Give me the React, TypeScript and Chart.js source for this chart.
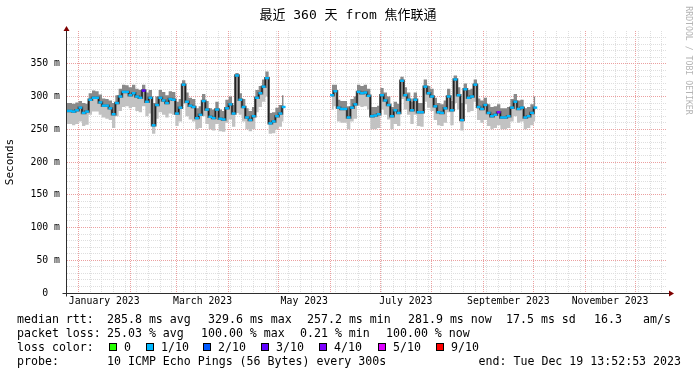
import React, { useEffect, useRef } from 'react';
import { Chart, registerables } from 'chart.js';

Chart.register(...registerables);

// ---------- texts ----------
const chartTitle = '最近 360 天 from 焦作联通';
const yAxisTitle = 'Seconds';
const sideCredit = 'RRDTOOL / TOBI OETIKER';

// ---------- time axis (days since window start; 360-day window) ----------
const windowDays = 360;
const endMs = Date.UTC(2023, 11, 19, 13, 52, 53);
const startMs = endMs - windowDays * 86400000;
const xLabelMonths = [0, 2, 4, 6, 8, 10];
const xLabelTexts = ['January 2023', 'March 2023', 'May 2023', 'July 2023', 'September 2023', 'November 2023'];

// ---------- y axis ----------
const yMax = 400;
const yStep = 10;
const yMajor = 50;

// ---------- data (ms), one value per 2 days ----------
const stepDays = 2;
const segAStart = 0.6;
const medianA = [
  278, 278, 277, 279, 283, 275, 277, 295, 298, 298,
  291, 286, 286, 282, 273, 290, 300, 307, 307, 302,
  305, 300, 298, 309, 292, 298, 256, 287, 298, 294,
  290, 296, 295, 274, 283, 318, 292, 286, 284, 267,
  272, 293, 280, 269, 267, 280, 266, 265, 282, 288,
  274, 332, 295, 284, 268, 264, 270, 298, 305, 315,
  328, 259, 262, 270, 274, 284,
];
const smokeTopA = [
  290, 290, 289, 291, 293, 290, 289, 305, 309, 308,
  303, 297, 296, 294, 290, 302, 312, 318, 317, 314,
  318, 312, 310, 318, 306, 310, 290, 300, 310, 307,
  302, 308, 307, 292, 296, 325, 306, 298, 296, 282,
  285, 304, 293, 282, 280, 292, 280, 278, 295, 300,
  287, 336, 305, 296, 282, 278, 284, 310, 316, 326,
  338, 275, 276, 283, 287, 302,
];
const smokeBotA = [
  258, 258, 256, 258, 262, 255, 257, 272, 277, 277,
  272, 268, 266, 264, 252, 270, 278, 284, 285, 282,
  284, 278, 276, 285, 270, 274, 243, 266, 276, 272,
  268, 274, 272, 255, 262, 288, 270, 265, 262, 250,
  252, 270, 258, 250, 248, 258, 247, 246, 260, 265,
  254, 275, 272, 262, 250, 247, 250, 276, 284, 292,
  300, 243, 244, 250, 254, 262,
];
const segBStart = 159.6;
const medianB = [
  302, 308, 283, 281, 281, 268, 283, 288, 307, 305,
  306, 301, 270, 271, 273, 302, 294, 287, 270, 279,
  275, 324, 302, 295, 279, 295, 276, 276, 315, 305,
  300, 285, 276, 275, 282, 300, 279, 326, 302, 264,
  311, 298, 300, 318, 284, 281, 287, 275, 270, 272,
  276, 268, 268, 270, 283, 292, 281, 283, 268, 270,
  275, 283,
];
const smokeTopB = [
  318, 318, 295, 293, 293, 285, 296, 300, 318, 316,
  318, 312, 284, 284, 286, 313, 306, 300, 284, 292,
  289, 330, 314, 306, 292, 306, 290, 290, 326, 316,
  312, 298, 290, 288, 294, 312, 293, 332, 314, 290,
  320, 310, 312, 326, 297, 294, 298, 288, 284, 285,
  288, 282, 282, 284, 296, 304, 294, 295, 282, 284,
  288, 300,
];
const smokeBotB = [
  280, 285, 262, 260, 260, 250, 262, 266, 286, 284,
  285, 280, 250, 250, 252, 280, 272, 265, 250, 258,
  255, 296, 280, 272, 258, 272, 255, 254, 292, 283,
  278, 264, 256, 255, 260, 276, 256, 290, 280, 248,
  288, 276, 278, 292, 264, 260, 264, 255, 250, 252,
  256, 250, 250, 252, 262, 270, 260, 262, 250, 252,
  256, 262,
];
// [index, loss level] exceptions (default level 1 = 1/10)
const lossLevelA = [[23, 3]];
const lossLevelB = [[50, 4]];

// ---------- legend ----------
const rttLabel = 'median rtt:';
const rttStats = ['285.8 ms avg', '329.6 ms max', '257.2 ms min', '281.9 ms now', '17.5 ms sd', '16.3', 'am/s'];
const lossLabel = 'packet loss:';
const lossStats = ['25.03 % avg', '100.00 % max', '0.21 % min', '100.00 % now'];
const colorLabel = 'loss color:';
const lossLevels = [0, 1, 2, 3, 4, 5, 9];
const lossNames = ['0', '1/10', '2/10', '3/10', '4/10', '5/10', '9/10'];
const lossColors = ['#26ff00', '#00b8ff', '#0059ff', '#5e00ff', '#7e00ff', '#dd00ff', '#ff0000'];
const probeLabel = 'probe:';
const probeText = '10 ICMP Echo Pings (56 Bytes) every 300s';
const endText = 'end: Tue Dec 19 13:52:53 2023';

// ---------- styles / layout ----------
const MONO = '"DejaVu Sans Mono", monospace';
const GRID_MINOR = '#dedede';
const GRID_MAJOR = '#eba0a0';
const AXIS = '#2e2e2e';
const ARROW = '#7f0000';
const rttX = [107, 208, 307, 408, 506, 594, 643];
const lossX = [107, 201, 300, 386];
const boxX = [109, 146, 203, 261, 319, 378, 436];
const legendY = [323, 337, 351, 365];

// ---------- derived ----------
const levelColor = (lvl: number) => lossColors[Math.max(0, lossLevels.indexOf(lvl))];
const toPts = (vals: number[], start: number) => vals.map((v, i) => ({ x: start + i * stepDays, y: v }));
const gapX = (segAStart + (medianA.length - 1) * stepDays + segBStart) / 2;
const join = (a: number[], b: number[]) => [
  ...toPts(a, segAStart),
  { x: gapX, y: null as any },
  ...toPts(b, segBStart),
];
const medPts = join(medianA, medianB);
const topPts = join(smokeTopA, smokeTopB);
const botPts = join(smokeBotA, smokeBotB);
const pointLevels: number[] = medPts.map(() => 1);
lossLevelA.forEach(([i, l]) => { pointLevels[i] = l; });
lossLevelB.forEach(([i, l]) => { pointLevels[medianA.length + 1 + i] = l; });

const dayOfMs = (ms: number) => (ms - startMs) / 86400000;
type XT = { value: number; kind: 'week' | 'month' | 'label'; text: string };
const xTicks: XT[] = [];
for (let m = 0; m < 12; m++) {
  const v = dayOfMs(Date.UTC(2023, m, 1));
  if (v > 0 && v < windowDays) xTicks.push({ value: v, kind: 'month', text: '' });
}
for (let t = Date.UTC(2023, 0, 1); ; t += 7 * 86400000) {
  const v = dayOfMs(t);
  if (v >= windowDays) break;
  if (!xTicks.some((k) => k.kind === 'month' && Math.abs(k.value - v) < 0.01)) {
    xTicks.push({ value: v, kind: 'week', text: '' });
  }
}
xLabelMonths.forEach((m, i) => {
  const a = Date.UTC(2023, m, 1);
  const b = Date.UTC(2023, m + 1, 1);
  xTicks.push({ value: dayOfMs((a + b) / 2), kind: 'label', text: xLabelTexts[i] });
});
xTicks.sort((p, q) => p.value - q.value);

const decor = {
  id: 'decor',
  beforeDraw(chart: any) {
    const { ctx, width, height } = chart;
    ctx.save();
    ctx.fillStyle = '#ffffff';
    ctx.fillRect(0, 0, width, height);
    ctx.restore();
  },
  afterDraw(chart: any) {
    const { ctx } = chart;
    const xs = chart.scales.x;
    const ys = chart.scales.y;
    const L = Math.round(xs.left) + 0.5;
    const R = xs.right;
    const B = Math.round(ys.bottom) + 0.5;
    const T = ys.top;
    ctx.save();
    // axis extensions + arrows
    ctx.strokeStyle = AXIS;
    ctx.lineWidth = 1;
    ctx.beginPath();
    ctx.moveTo(L - 4, B); ctx.lineTo(R + 3, B);
    ctx.moveTo(L, B + 3); ctx.lineTo(L, T);
    ctx.stroke();
    ctx.fillStyle = ARROW;
    ctx.beginPath();
    ctx.moveTo(R + 3, B - 3); ctx.lineTo(R + 8, B); ctx.lineTo(R + 3, B + 3);
    ctx.closePath(); ctx.fill();
    ctx.beginPath();
    ctx.moveTo(L - 3, T); ctx.lineTo(L, T - 5); ctx.lineTo(L + 3, T);
    ctx.closePath(); ctx.fill();

    // title
    ctx.fillStyle = '#000';
    ctx.font = `13px "DejaVu Sans Mono", "Noto Sans CJK SC", monospace`;
    ctx.textAlign = 'center';
    ctx.textBaseline = 'alphabetic';
    ctx.fillText(chartTitle, 348, 19);

    // side credit
    ctx.save();
    ctx.translate(688, 60.5);
    ctx.rotate(Math.PI / 2);
    ctx.font = `8.2px ${MONO}`;
    ctx.fillStyle = '#b4b4b4';
    ctx.textAlign = 'center';
    ctx.textBaseline = 'middle';
    ctx.fillText(sideCredit, 0, 0);
    ctx.restore();

    // legend
    ctx.font = `11.6px ${MONO}`;
    ctx.fillStyle = '#000';
    ctx.textAlign = 'left';
    ctx.textBaseline = 'alphabetic';
    ctx.fillText(rttLabel, 17, legendY[0]);
    rttStats.forEach((s, i) => ctx.fillText(s, rttX[i], legendY[0]));
    ctx.fillText(lossLabel, 17, legendY[1]);
    lossStats.forEach((s, i) => ctx.fillText(s, lossX[i], legendY[1]));
    ctx.fillText(colorLabel, 17, legendY[2]);
    lossNames.forEach((s, i) => {
      const bx = boxX[i];
      ctx.fillStyle = lossColors[i];
      ctx.fillRect(bx, 343, 8, 8);
      ctx.strokeStyle = '#000';
      ctx.lineWidth = 1;
      ctx.strokeRect(bx + 0.5, 343.5, 7, 7);
      ctx.fillStyle = '#000';
      ctx.fillText(s, bx + 15, legendY[2]);
    });
    ctx.fillText(probeLabel, 17, legendY[3]);
    ctx.fillText(probeText, 107, legendY[3]);
    ctx.textAlign = 'right';
    ctx.fillText(endText, 681, legendY[3]);
    ctx.restore();
  },
};

export default function App() {
  const ref = useRef<HTMLCanvasElement>(null);
  useEffect(() => {
    const canvas = ref.current;
    if (!canvas) return;
    const chart = new Chart(canvas, {
      type: 'line',
      data: {
        datasets: [
          {
            label: 'loss',
            data: medPts,
            showLine: false,
            pointStyle: 'line',
            pointRadius: 1.9,
            pointHoverRadius: 1.9,
            pointBorderWidth: 2.4,
            pointBorderColor: (c: any) => levelColor(pointLevels[c.dataIndex]),
            pointBackgroundColor: (c: any) => levelColor(pointLevels[c.dataIndex]),
            order: 0,
          } as any,
          {
            label: 'median',
            data: medPts,
            borderColor: '#161616',
            borderWidth: 1,
            stepped: 'middle',
            pointRadius: 0,
            fill: false,
            order: 1,
          },
          {
            label: 'core',
            data: medPts,
            borderColor: '#5a5a5a',
            borderWidth: 2.5,
            stepped: 'middle',
            pointRadius: 0,
            fill: false,
            order: 2,
          },
          {
            label: 'smokeTop',
            data: topPts,
            borderColor: 'rgba(0,0,0,0)',
            borderWidth: 0,
            stepped: 'middle',
            pointRadius: 0,
            fill: 2,
            backgroundColor: '#8a8a8a',
            order: 3,
          },
          {
            label: 'smokeBot',
            data: botPts,
            borderColor: 'rgba(0,0,0,0)',
            borderWidth: 0,
            stepped: 'middle',
            pointRadius: 0,
            fill: 2,
            backgroundColor: '#c2c2c2',
            order: 4,
          },
        ],
      },
      options: {
        animation: false,
        responsive: false,
        devicePixelRatio: 1,
        events: [],
        layout: { padding: { top: 31, right: 31, left: 0, bottom: 0 } },
        plugins: {
          legend: { display: false },
          tooltip: { enabled: false },
          title: { display: false },
        },
        scales: {
          x: {
            type: 'linear',
            min: 0,
            max: windowDays,
            afterFit: (s: any) => { s.height = 82; },
            afterBuildTicks: (s: any) => { s.ticks = xTicks.map((t) => ({ value: t.value })); },
            ticks: {
              autoSkip: false,
              maxRotation: 0,
              minRotation: 0,
              padding: 3,
              color: '#000',
              font: { family: MONO, size: 9.8 },
              callback: (_v: any, i: number) => (xTicks[i] ? xTicks[i].text : ''),
            },
            grid: {
              drawTicks: false,
              color: (c: any) => (xTicks[c.index] && xTicks[c.index].kind === 'month' ? GRID_MAJOR : GRID_MINOR),
              lineWidth: (c: any) => (xTicks[c.index] && xTicks[c.index].kind === 'label' ? 0 : 1),
            },
            border: { display: true, color: AXIS, width: 1, dash: [1, 1] },
          },
          y: {
            type: 'linear',
            min: 0,
            max: yMax,
            afterFit: (s: any) => { s.width = 66; },
            ticks: {
              stepSize: yStep,
              autoSkip: false,
              padding: 6,
              color: '#000',
              font: { family: MONO, size: 9.8 },
              callback: (v: any) => {
                const n = Number(v);
                if (n % yMajor !== 0 || n >= yMax) return '';
                return n === 0 ? '0  ' : `${n} m`;
              },
            },
            grid: {
              drawTicks: false,
              color: (c: any) => (c.tick && c.tick.value % yMajor === 0 ? GRID_MAJOR : GRID_MINOR),
              lineWidth: (c: any) => (c.tick && c.tick.value >= yMax ? 0 : 1),
            },
            border: { display: true, color: AXIS, width: 1, dash: [1, 1] },
            title: {
              display: true,
              text: yAxisTitle,
              color: '#000',
              font: { family: MONO, size: 11 },
              padding: { top: 4, bottom: 0 },
            },
          },
        },
      },
      plugins: [decor],
    } as any);
    return () => chart.destroy();
  }, []);
  return (
    <div style={{ position: 'fixed', left: 0, top: 0, width: 697, height: 375 }}>
      <canvas ref={ref} width={697} height={375} style={{ display: 'block', width: 697, height: 375 }} />
    </div>
  );
}
